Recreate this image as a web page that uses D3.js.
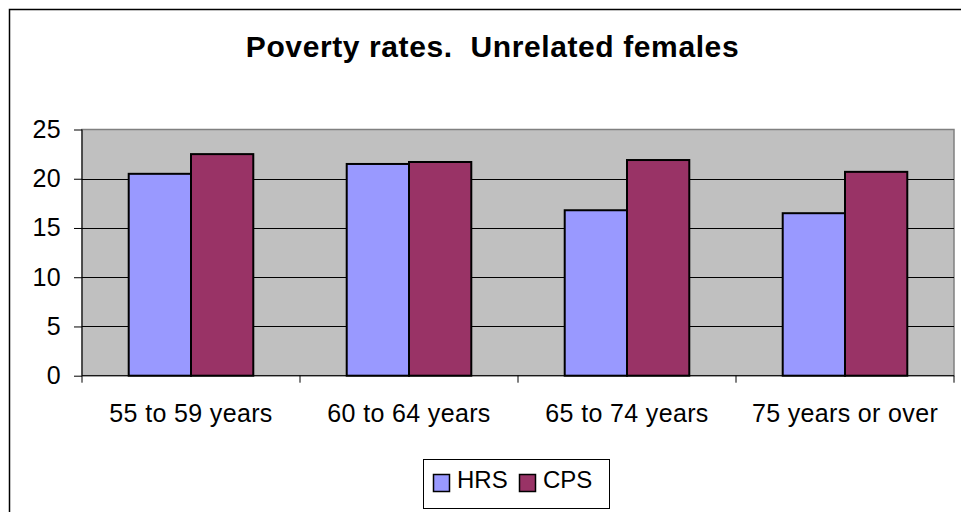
<!DOCTYPE html>
<html><head><meta charset="utf-8">
<script src="https://cdn.jsdelivr.net/npm/d3@7"></script>
<style>body{margin:0;background:#fff;} svg{display:block;font-family:Arial,"Liberation Sans",sans-serif;} text{white-space:pre;}</style>
</head><body>
<script>
const categories = ["55 to 59 years", "60 to 64 years", "65 to 74 years", "75 years or over"];
const seriesNames = ["HRS", "CPS"];
const hrsValues = [20.5, 21.5, 16.8, 16.5];
const cpsValues = [22.5, 21.7, 21.9, 20.7];
const yTicks = [0, 5, 10, 15, 20, 25];
const colors = ["#9999FF", "#993366"];
const title = "Poverty rates.  Unrelated females";

(function () {
const W = 961, H = 512;
const svg = d3.select("body").append("svg").attr("width", W).attr("height", H);

svg.append("rect").attr("x", 9.5).attr("y", 9.5).attr("width", 960).attr("height", 520)
  .attr("fill", "#fff").attr("stroke", "#000").attr("stroke-width", 1.5);

svg.append("text").attr("x", 492.5).attr("y", 57).attr("text-anchor", "middle")
  .attr("font-size", 30).attr("font-weight", "bold").attr("letter-spacing", 0.6).text(title);

const pL = 82, pR = 954, pT = 129.5, pB = 375.7;
const x = d3.scaleBand().domain(categories).range([pL, pR]).paddingInner(0).paddingOuter(0);
const y = d3.scaleLinear().domain([0, 25]).range([pB, pT]);

svg.append("rect").attr("x", pL).attr("y", pT).attr("width", pR - pL).attr("height", pB - pT)
  .attr("fill", "#C0C0C0").attr("stroke", "#808080").attr("stroke-width", 1.5);

svg.append("g").selectAll("line").data(yTicks.filter(d => d > 0 && d < 25)).join("line")
  .attr("x1", pL).attr("x2", pR).attr("y1", d => Math.round(y(d)) + 0.5).attr("y2", d => Math.round(y(d)) + 0.5)
  .attr("stroke", "#000").attr("stroke-width", 1);

const bw = x.bandwidth() / 3.5;
const data = categories.map((c, i) => ({c, vals: [hrsValues[i], cpsValues[i]]}));
const g = svg.append("g");
data.forEach(d => {
  d.vals.forEach((v, j) => {
    g.append("rect")
      .attr("x", x(d.c) + 0.75 * bw + j * bw)
      .attr("y", y(v))
      .attr("width", bw)
      .attr("height", y(0) - y(v))
      .attr("fill", colors[j]).attr("stroke", "#000").attr("stroke-width", 2);
  });
});

const yAxis = d3.axisLeft(y).tickValues(yTicks).tickSize(8).tickPadding(13);
const ya = svg.append("g").attr("transform", `translate(${pL},0)`).call(yAxis);
ya.select(".domain").attr("stroke", "#000").attr("d", `M0,${pT}V${pB}`);
ya.selectAll("text").attr("font-size", 25).attr("fill", "#000").attr("letter-spacing", 0.3)
  .attr("font-family", "Arial, 'Liberation Sans', sans-serif");
ya.selectAll("line").attr("stroke", "#000");

const xa = svg.append("g").attr("transform", `translate(0,${pB})`);
xa.append("line").attr("x1", pL).attr("x2", pR).attr("y1", 0).attr("y2", 0).attr("stroke", "#000");
const bounds = categories.map(c => x(c)).concat([pR]);
xa.selectAll("line.tk").data(bounds).join("line").attr("class", "tk")
  .attr("x1", d => d).attr("x2", d => d).attr("y1", 0).attr("y2", 7).attr("stroke", "#000");
xa.selectAll("text").data(categories).join("text")
  .attr("x", d => x(d) + x.bandwidth() / 2).attr("y", 46).attr("text-anchor", "middle")
  .attr("font-size", 25).attr("letter-spacing", 0.35).text(d => d);

const lg = svg.append("g");
lg.append("rect").attr("x", 423.5).attr("y", 459.5).attr("width", 186).attr("height", 49)
  .attr("fill", "#fff").attr("stroke", "#000").attr("stroke-width", 1);
const lx = [433.5, 519.5];
seriesNames.forEach((s, i) => {
  lg.append("rect").attr("x", lx[i]).attr("y", 474.5).attr("width", 16).attr("height", 17)
    .attr("fill", colors[i]).attr("stroke", "#000").attr("stroke-width", 1.5);
  lg.append("text").attr("x", lx[i] + 23.5).attr("y", 488).attr("font-size", 24).text(s);
});
})();
</script>
</body></html>
